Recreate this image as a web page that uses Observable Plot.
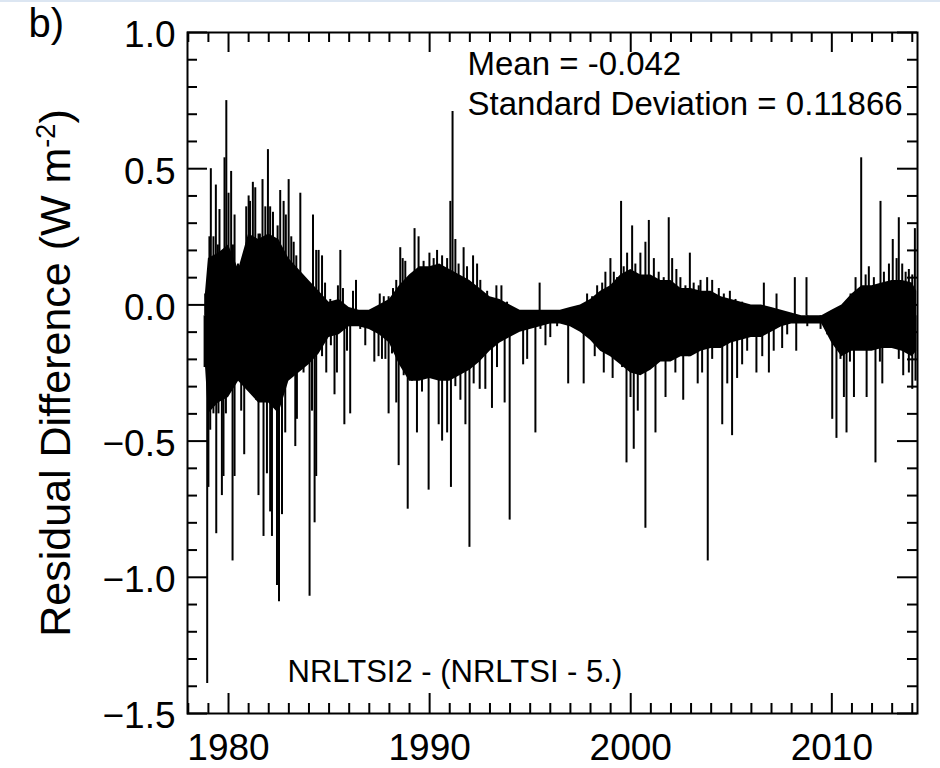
<!DOCTYPE html>
<html><head><meta charset="utf-8">
<script src="https://cdn.jsdelivr.net/npm/d3@7"></script>
<script src="https://cdn.jsdelivr.net/npm/@observablehq/plot@0.6"></script>
<style>
html,body{margin:0;padding:0;background:#fff;}
#wrap{position:relative;width:940px;height:768px;overflow:hidden;}
#topline{position:absolute;left:0;top:0;width:940px;height:2px;background:#dce6f2;z-index:2;}
</style></head><body><div id="wrap"><div id="topline"></div></div>
<script>
// ---- data ----
// dense core of the daily residual series (upper / lower edge of the solid band)
const coreYears = [1978.85,1979.0,1979.5,1980.0,1980.5,1981.0,1981.5,1982.0,1982.5,1983.0,1983.5,1984.0,1984.5,1985.0,1985.5,1986.0,1986.5,1987.0,1987.5,1988.0,1988.5,1989.0,1989.5,1990.0,1990.5,1991.0,1991.5,1992.0,1992.5,1993.0,1993.5,1994.0,1994.5,1995.0,1995.5,1996.0,1996.5,1997.0,1997.5,1998.0,1998.5,1999.0,1999.5,2000.0,2000.5,2001.0,2001.5,2002.0,2002.5,2003.0,2003.5,2004.0,2004.5,2005.0,2005.5,2006.0,2006.5,2007.0,2007.5,2008.0,2008.5,2009.0,2009.5,2010.0,2010.5,2011.0,2011.5,2012.0,2012.5,2013.0,2013.5,2014.0,2014.22];
const coreHigh = [0.04,0.17,0.19,0.22,0.13,0.26,0.24,0.26,0.24,0.17,0.13,0.09,0.05,0.01,0.02,-0.01,-0.02,-0.02,0.0,0.02,0.07,0.11,0.14,0.14,0.15,0.13,0.11,0.09,0.06,0.03,0.02,0.0,-0.02,-0.02,-0.02,-0.02,-0.02,-0.01,0.0,0.02,0.05,0.07,0.11,0.13,0.11,0.11,0.09,0.09,0.06,0.06,0.05,0.05,0.03,0.02,0.01,0.0,0.0,-0.01,-0.02,-0.03,-0.04,-0.04,-0.04,-0.02,0.0,0.04,0.07,0.07,0.08,0.09,0.09,0.08,0.05];
const coreLow = [-0.22,-0.4,-0.36,-0.34,-0.28,-0.32,-0.36,-0.36,-0.4,-0.28,-0.25,-0.22,-0.18,-0.12,-0.11,-0.08,-0.08,-0.09,-0.11,-0.14,-0.22,-0.28,-0.28,-0.27,-0.28,-0.28,-0.26,-0.24,-0.21,-0.17,-0.14,-0.12,-0.1,-0.09,-0.08,-0.07,-0.07,-0.08,-0.1,-0.13,-0.17,-0.19,-0.22,-0.25,-0.26,-0.24,-0.21,-0.21,-0.19,-0.19,-0.17,-0.16,-0.16,-0.14,-0.13,-0.12,-0.12,-0.1,-0.08,-0.07,-0.07,-0.07,-0.07,-0.14,-0.19,-0.17,-0.17,-0.17,-0.16,-0.16,-0.17,-0.19,-0.17];

// positive excursions (year, W m-2)
const upYears = [1978.84,1978.98,1979.05,1979.12,1979.25,1979.37,1979.47,1979.55,1979.80,1979.89,1980.00,1980.13,1980.22,1980.30,1980.47,1980.58,1980.72,1980.88,1981.00,1981.07,1981.21,1981.33,1981.49,1981.56,1981.69,1981.83,1981.96,1982.07,1982.21,1982.32,1982.44,1982.57,1982.74,1982.85,1982.99,1983.12,1983.24,1983.37,1983.57,1983.73,1983.90,1984.20,1984.36,1984.48,1984.65,1984.80,1985.06,1985.44,1985.56,1985.69,1986.19,1986.34,1987.52,1987.72,1987.96,1988.18,1988.34,1988.54,1988.66,1988.79,1989.00,1989.25,1989.45,1989.70,1989.99,1990.20,1990.37,1990.62,1990.87,1991.03,1991.14,1991.28,1991.44,1991.69,1991.86,1992.16,1992.36,1992.52,1992.86,1993.10,1993.32,1993.57,1993.85,1995.47,1997.83,1998.08,1998.33,1998.58,1998.74,1998.99,1999.16,1999.32,1999.52,1999.65,1999.82,2000.07,2000.23,2000.48,2000.73,2000.90,2001.15,2001.39,2001.64,2001.89,2002.06,2002.27,2002.47,2002.72,2002.94,2003.13,2003.38,2003.47,2003.80,2004.05,2004.38,2004.63,2004.93,2005.21,2005.54,2006.62,2007.25,2008.16,2008.74,2010.93,2011.18,2011.46,2011.68,2011.84,2012.09,2012.42,2012.59,2012.84,2013.03,2013.22,2013.33,2013.50,2013.67,2013.83,2014.00,2014.13];
const upValues = [0.04,0.08,0.25,0.50,0.25,0.44,0.22,0.35,0.54,0.75,0.41,0.49,0.22,0.33,0.15,0.13,0.16,0.36,0.40,0.38,0.45,0.43,0.26,0.26,0.46,0.36,0.57,0.36,0.34,0.21,0.29,0.42,0.38,0.33,0.46,0.25,0.23,0.18,0.41,0.10,0.07,0.33,0.20,0.20,0.18,0.08,0.02,0.07,0.20,0.06,0.05,0.09,0.04,0.03,0.03,0.06,0.09,0.21,0.17,0.16,0.10,0.28,0.25,0.16,0.19,0.17,0.20,0.18,0.17,0.38,0.71,0.24,0.15,0.21,0.14,0.18,0.15,0.09,0.05,0.02,0.07,0.07,0.01,0.08,0.04,0.03,0.07,0.08,0.12,0.17,0.12,0.10,0.38,0.14,0.19,0.29,0.15,0.19,0.23,0.31,0.17,0.12,0.10,0.32,0.17,0.13,0.10,0.07,0.19,0.08,0.07,0.09,0.10,0.09,0.06,0.04,0.05,0.02,0.01,0.08,0.04,0.10,0.10,0.04,0.10,0.54,0.11,0.14,0.10,0.38,0.12,0.15,0.24,0.17,0.32,0.15,0.12,0.13,0.11,0.28];

// negative excursions (year, W m-2)
const downYears = [1978.81,1978.94,1979.00,1979.09,1979.25,1979.39,1979.50,1979.67,1979.75,1979.87,1980.20,1980.30,1980.63,1980.78,1981.00,1981.38,1981.49,1981.74,1981.91,1982.07,1982.16,1982.41,1982.51,1982.66,1982.82,1983.32,1983.40,1983.73,1984.03,1984.15,1984.28,1984.36,1984.65,1984.86,1985.09,1985.27,1985.39,1985.76,1985.89,1986.05,1986.55,1986.80,1987.05,1987.25,1987.46,1987.63,1987.80,1987.96,1988.13,1988.34,1988.46,1988.71,1988.91,1989.12,1989.37,1989.62,1989.95,1990.45,1990.62,1990.87,1991.06,1991.28,1991.53,1991.78,1991.98,1992.19,1992.49,1992.77,1993.10,1993.35,1993.73,1993.98,1994.18,1994.65,1994.85,1995.26,1995.51,1995.76,1996.00,1996.34,1996.89,1997.16,1997.66,1998.08,1998.21,1998.66,1998.91,1999.10,1999.57,1999.79,1999.99,2000.15,2000.35,2000.73,2000.98,2001.23,2001.44,2001.73,2002.22,2002.61,2002.89,2003.33,2003.55,2003.83,2004.05,2004.55,2004.80,2005.04,2005.29,2005.54,2005.79,2006.25,2006.54,2006.87,2007.11,2007.53,2007.78,2008.23,2008.78,2009.44,2009.77,2010.02,2010.23,2010.43,2010.60,2010.73,2010.90,2011.10,2011.43,2011.73,2011.98,2012.17,2012.39,2012.51,2012.76,2013.09,2013.33,2013.55,2013.83,2014.00,2014.16];
const downValues = [-0.23,-1.39,-0.67,-0.46,-0.40,-0.84,-0.40,-0.70,-0.63,-0.40,-0.94,-0.63,-0.39,-0.55,-0.31,-0.35,-0.70,-0.85,-0.62,-0.76,-0.85,-1.03,-1.09,-0.77,-0.47,-0.52,-0.42,-0.25,-1.07,-0.39,-0.80,-0.63,-0.19,-0.25,-0.15,-0.33,-0.25,-0.44,-0.17,-0.40,-0.09,-0.15,-0.07,-0.21,-0.19,-0.20,-0.20,-0.40,-0.18,-0.36,-0.59,-0.26,-0.75,-0.28,-0.47,-0.32,-0.68,-0.44,-0.50,-0.47,-0.67,-0.30,-0.35,-0.44,-0.89,-0.29,-0.31,-0.31,-0.38,-0.23,-0.36,-0.79,-0.10,-0.22,-0.20,-0.47,-0.09,-0.15,-0.12,-0.08,-0.29,-0.07,-0.29,-0.09,-0.19,-0.25,-0.13,-0.27,-0.23,-0.58,-0.34,-0.53,-0.39,-0.82,-0.13,-0.47,-0.18,-0.34,-0.25,-0.35,-0.19,-0.29,-0.25,-0.94,-0.20,-0.44,-0.29,-0.48,-0.27,-0.22,-0.17,-0.25,-0.19,-0.25,-0.17,-0.16,-0.11,-0.17,-0.08,-0.09,-0.11,-0.42,-0.49,-0.20,-0.34,-0.47,-0.21,-0.34,-0.13,-0.34,-0.16,-0.58,-0.21,-0.29,-0.12,-0.16,-0.20,-0.26,-0.25,-0.31,-0.28];

const meanValue = "-0.042";
const stdValue = "0.11866";
const seriesLabel = "NRLTSI2 - (NRLTSI - 5.)";
const panelLabel = "b)";
const yLabelText = "Residual Difference (W m-2)";

// axis ticks
const xMajor = [1980, 1990, 2000, 2010];
const xMinor = [1978,1979,1981,1982,1983,1984,1985,1986,1987,1988,1989,1991,1992,1993,1994,1995,1996,1997,1998,1999,2001,2002,2003,2004,2005,2006,2007,2008,2009,2011,2012,2013,2014];
const yMajor = [-1.5, -1.0, -0.5, 0.0, 0.5, 1.0];
const yMinor = [-1.4,-1.3,-1.2,-1.1,-0.9,-0.8,-0.7,-0.6,-0.4,-0.3,-0.2,-0.1,0.1,0.2,0.3,0.4,0.6,0.7,0.8,0.9];

// ---- build ----
const core = coreYears.map((y, i) => ({year: y, high: coreHigh[i], low: coreLow[i]}));
const ups = upYears.map((y, i) => ({year: y, value: upValues[i]}));
const downs = downYears.map((y, i) => ({year: y, value: downValues[i]}));

const W = 940, H = 768, mL = 187, mR = 23, mT = 32, mB = 55;
const innerW = W - mL - mR, innerH = H - mT - mB;
const base = -0.04;
const font = "'Liberation Sans', Arial, Helvetica, sans-serif";
const ink = "black";

const plot = Plot.plot({
  width: W, height: H,
  marginLeft: mL, marginRight: mR, marginTop: mT, marginBottom: mB,
  style: {fontFamily: font, fontSize: "38px", color: ink, background: "white", overflow: "visible"},
  x: {domain: [1977.96, 2014.26]},
  y: {domain: [-1.5, 1.0]},
  marks: [
    Plot.areaY(core, {x: "year", y1: "low", y2: "high", fill: ink, curve: "linear"}),
    Plot.ruleX(ups, {x: "year", y1: base, y2: "value", stroke: ink, strokeWidth: 2}),
    Plot.ruleX(downs, {x: "year", y1: base, y2: "value", stroke: ink, strokeWidth: 2}),
    Plot.frame({stroke: ink, strokeWidth: 2}),
    // inward ticks on all four sides
    Plot.ruleX(xMinor, {insetTop: innerH - 10, stroke: ink, strokeWidth: 2}),
    Plot.ruleX(xMinor, {insetBottom: innerH - 10, stroke: ink, strokeWidth: 2}),
    Plot.ruleX(xMajor, {insetTop: innerH - 20, stroke: ink, strokeWidth: 2}),
    Plot.ruleX(xMajor, {insetBottom: innerH - 20, stroke: ink, strokeWidth: 2}),
    Plot.ruleY(yMinor, {insetRight: innerW - 10, stroke: ink, strokeWidth: 2}),
    Plot.ruleY(yMinor, {insetLeft: innerW - 10, stroke: ink, strokeWidth: 2}),
    Plot.ruleY(yMajor, {insetRight: innerW - 20, stroke: ink, strokeWidth: 2}),
    Plot.ruleY(yMajor, {insetLeft: innerW - 20, stroke: ink, strokeWidth: 2}),
    Plot.axisX({ticks: xMajor, tickSize: 0, tickPadding: 20, tickFormat: d => String(d), fontSize: 37, label: null}),
    Plot.axisY({ticks: yMajor, tickSize: 0, tickPadding: 12, tickFormat: d3.format(".1f"), fontSize: 37, label: null, dy: 3}),
    Plot.text([yLabelText], {text: d => d, frameAnchor: "left", dx: -131, rotate: -90, textAnchor: "middle", lineAnchor: "middle", fontSize: 43, fill: ink}),
    Plot.text(["Mean = " + meanValue], {text: d => d, frameAnchor: "top-left", dx: 280, dy: 32.4, textAnchor: "start", lineAnchor: "middle", fontSize: 33, fill: ink}),
    Plot.text(["Standard Deviation = " + stdValue], {text: d => d, frameAnchor: "top-left", dx: 280, dy: 71.7, textAnchor: "start", lineAnchor: "middle", fontSize: 33, fill: ink}),
    Plot.text([seriesLabel], {text: d => d, frameAnchor: "bottom-left", dx: 100, dy: -41, textAnchor: "start", lineAnchor: "middle", fontSize: 31, fill: ink}),
    Plot.text([panelLabel], {text: d => d, frameAnchor: "top-left", dx: -159, dy: -8, textAnchor: "start", lineAnchor: "middle", fontSize: 40, fill: ink})
  ]
});

// superscript for the unit in the y label
const ns = "http://www.w3.org/2000/svg";
plot.querySelectorAll("text").forEach(t => {
  if (t.textContent === yLabelText) {
    t.textContent = "Residual Difference (W m";
    const sup = document.createElementNS(ns, "tspan");
    sup.setAttribute("dy", "-15");
    sup.setAttribute("font-size", "27");
    sup.textContent = "-2";
    const close = document.createElementNS(ns, "tspan");
    close.setAttribute("dy", "15");
    close.textContent = ")";
    t.appendChild(sup);
    t.appendChild(close);
  }
});
document.getElementById("wrap").appendChild(plot);
</script></body></html>
